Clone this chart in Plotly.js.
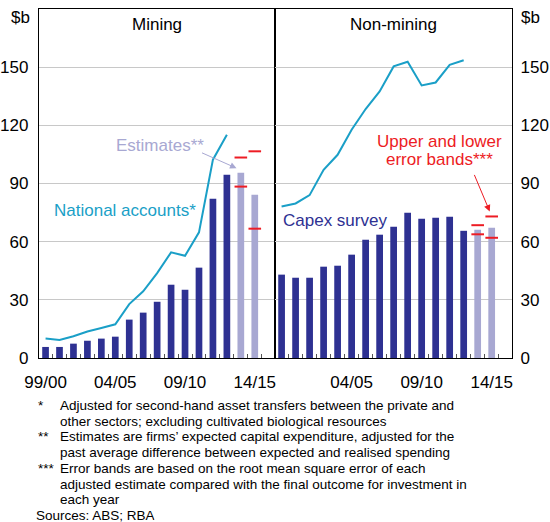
<!DOCTYPE html>
<html>
<head>
<meta charset="utf-8">
<script src="https://cdn.plot.ly/plotly-3.0.1.min.js"></script>
<style>html,body{margin:0;padding:0;background:#fff;}#chart{width:550px;height:522px;}</style>
</head>
<body>
<div id="chart"></div>
<script>
// ---- Data ----
const years = ['99/00','00/01','01/02','02/03','03/04','04/05','05/06','06/07','07/08','08/09','09/10','10/11','11/12','12/13','13/14','14/15'];
const labelYears = ['99/00','04/05','09/10','14/15'];
const labelYearsRight = ['04/05','09/10','14/15'];

const miningCapex = [5.7,5.7,7.4,8.9,10.0,11.0,19.8,23.4,29.0,37.8,35.2,46.6,82.1,94.5];
const miningEstimates = [95.6,84.2];
const miningNational = [10.0,9.3,11.2,13.7,15.5,17.4,27.8,34.4,43.8,54.5,52.7,64.8,102.3,115.1];
const miningUpper = [103.4,106.6];
const miningLower = [88.4,66.7];

const nonMiningCapex = [43.0,41.4,41.4,47.1,47.6,53.3,61.0,63.6,67.7,74.9,71.8,72.3,72.9,65.6];
const nonMiningEstimates = [66.2,67.2];
const nonMiningNational = [78.1,79.7,84.0,97.1,104.8,117.7,128.4,137.5,150.4,152.8,140.6,142.1,151.2,153.6];
const nonMiningUpper = [68.5,73.0];
const nonMiningLower = [63.8,62.0];

const estimateYears = ['13/14','14/15'];

// ---- Styles ----
const NAVY = '#2e3192';
const LIGHT = '#a8a8d2';
const CYAN = '#1a9fc7';
const RED = '#ed1c24';
const FONT = 'Liberation Sans, Arial, Helvetica, sans-serif';

const idx = y => years.indexOf(y);
const xs = arr => arr.map((_, i) => i);
const xe = estimateYears.map(idx);

function panel(xa, ya, capex, est, nat, up, lo) {
  return [
    {type:'bar', x: xs(capex), y: capex, xaxis: xa, yaxis: ya, marker:{color:NAVY}, width:0.48, hoverinfo:'skip'},
    {type:'bar', x: xe, y: est, xaxis: xa, yaxis: ya, marker:{color:LIGHT}, width:0.48, hoverinfo:'skip'},
    {type:'scatter', mode:'lines', x: xs(nat), y: nat, xaxis: xa, yaxis: ya, line:{color:CYAN, width:2}, hoverinfo:'skip'},
    {type:'scatter', mode:'markers', x: xe.concat(xe), y: up.concat(lo), xaxis: xa, yaxis: ya,
      marker:{symbol:'line-ew', size:9, line:{color:RED, width:2}}, hoverinfo:'skip'}
  ];
}

const data = [].concat(
  panel('x','y', miningCapex, miningEstimates, miningNational, miningUpper, miningLower),
  panel('x2','y2', nonMiningCapex, nonMiningEstimates, nonMiningNational, nonMiningUpper, nonMiningLower)
);

const W = 550, H = 522;
const px = v => v / W;
const py = v => 1 - v / H;
const boundaries = years.map((_, i) => i + 0.5);

function xaxis(domain, labels) {
  return {
    domain: domain, range: [-0.47, 16.45], showgrid:false, zeroline:false,
    tickvals: labels.map(idx), ticktext: labels, ticks:'', ticklabelstandoff: 8,
    tickfont:{family:FONT, size:17, color:'#000'},
    showline:true, mirror:true, linecolor:'#000', linewidth:1.2,
    minor:{tickvals: boundaries, ticks:'inside', ticklen:4, tickcolor:'#555', tickwidth:1, showgrid:false},
    fixedrange:true
  };
}
function yaxis(anchor, side, standoff) {
  return {
    domain:[py(358), py(9)], range:[0,180], anchor: anchor, side: side,
    tickvals:[0,30,60,90,120,150], ticks:'', ticklabelstandoff: standoff,
    tickfont:{family:FONT, size:17, color:'#000'},
    showgrid:true, gridcolor:'#c8c8c8', gridwidth:1, zeroline:false,
    showline:true, mirror:true, linecolor:'#000', linewidth:1.2, fixedrange:true
  };
}

const ann = [];
function txt(x, y, text, opts) {
  ann.push(Object.assign({xref:'paper', yref:'paper', x:px(x), y:py(y), text:text, showarrow:false,
    xanchor:'center', yanchor:'middle', font:{family:FONT, size:17, color:'#000'}}, opts || {}));
}
txt(157, 25, 'Mining');
txt(393, 25, 'Non-mining');
txt(20, 18, '$b');
txt(530, 18, '$b');
txt(160, 146, 'Estimates**', {font:{family:FONT, size:17, color:LIGHT}});
txt(125, 210, 'National accounts*', {font:{family:FONT, size:17, color:CYAN}});
txt(335, 220, 'Capex survey', {font:{family:FONT, size:17, color:NAVY}});
txt(439, 141, 'Upper and lower', {font:{family:FONT, size:17, color:RED}});
txt(439, 160, 'error bands***', {font:{family:FONT, size:17, color:RED}});

// arrows
ann.push({xref:'x', yref:'y', x: idx('13/14') - 0.31, y: 97.9, ax:-36, ay:-16, text:'', showarrow:true,
  arrowhead:2, arrowsize:1.3, arrowwidth:1, arrowcolor:LIGHT});
ann.push({xref:'x2', yref:'y2', x: idx('14/15') - 0.14, y: 75.6, ax:-16, ay:-38, text:'', showarrow:true,
  arrowhead:2, arrowsize:1.3, arrowwidth:1, arrowcolor:RED});

// footnotes
const notes = [
  ['*', 'Adjusted for second-hand asset transfers between the private and'],
  ['', 'other sectors; excluding cultivated biological resources'],
  ['**', 'Estimates are firms’ expected capital expenditure, adjusted for the'],
  ['', 'past average difference between expected and realised spending'],
  ['***', 'Error bands are based on the root mean square error of each'],
  ['', 'adjusted estimate compared with the final outcome for investment in'],
  ['', 'each year']
];
const FN = {family:FONT, size:13.5, color:'#000'};
notes.forEach((n, i) => {
  const y = 405.5 + 15.7 * i;
  if (n[0]) txt(36, y, n[0], {xanchor:'left', font:FN});
  txt(58, y, n[1], {xanchor:'left', font:FN});
});
txt(35, 515, 'Sources: ABS; RBA', {xanchor:'left', font:FN, borderpad:0, height:14});

const layout = {
  width: W, height: H, margin:{l:0, r:0, t:0, b:0},
  paper_bgcolor:'#fff', plot_bgcolor:'#fff', showlegend:false, barmode:'overlay',
  font:{family:FONT, color:'#000'},
  xaxis: xaxis([px(39), px(275)], labelYears),
  xaxis2: xaxis([px(275), px(512)], labelYearsRight),
  yaxis: yaxis('x', 'left', 6),
  yaxis2: yaxis('x2', 'right', 4),
  annotations: ann
};

Plotly.newPlot('chart', data, layout, {staticPlot:true, displayModeBar:false});
</script>
</body>
</html>
